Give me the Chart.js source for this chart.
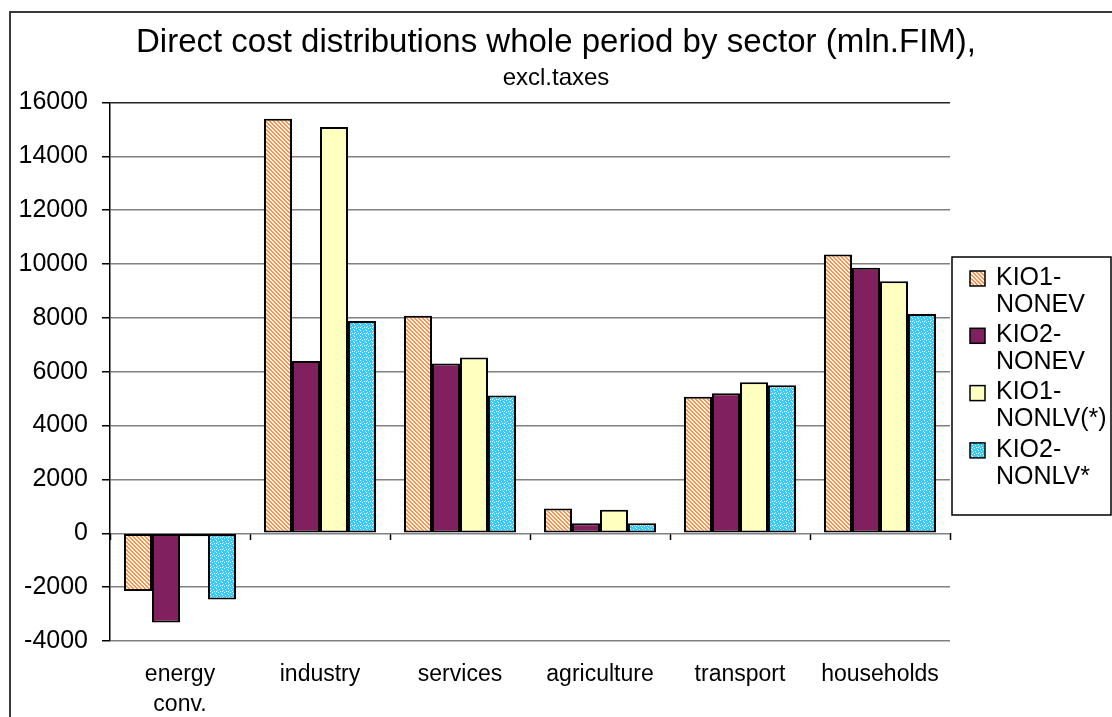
<!DOCTYPE html>
<html>
<head>
<meta charset="utf-8">
<script src="https://cdn.jsdelivr.net/npm/chart.js@4.4.0/dist/chart.umd.min.js"></script>
<style>
  html, body { margin: 0; padding: 0; background: #fff; overflow: hidden; }
  #wrap { position: relative; width: 1112px; height: 717px; }
  #frame { position: absolute; left: 9px; top: 11px; width: 1200px; height: 800px; border: 2px solid #3a3a3a; box-sizing: border-box; }
  #chart { position: absolute; left: 0; top: 0; }
</style>
</head>
<body>
<div id="wrap">
  <div id="frame"></div>
  <canvas id="chart" width="1112" height="717"></canvas>
</div>
<script>
const FONT = '"Liberation Sans", Arial, sans-serif';

// sectors and direct costs, mln.FIM
const sectors = [['energy', 'conv.'], 'industry', 'services', 'agriculture', 'transport', 'households'];
const kio1Nonev = [-2140, 15390, 8080, 920, 5070, 10350];
const kio2Nonev = [-3310, 6400, 6300, 370, 5200, 9860];
const kio1Nonlv = [-110, 15090, 6530, 870, 5610, 9360];
const kio2Nonlv = [-2460, 7880, 5120, 370, 5500, 8140];
const seriesNames = [['KIO1-', 'NONEV'], ['KIO2-', 'NONEV'], ['KIO1-', 'NONLV(*)'], ['KIO2-', 'NONLV*']];
const yMin = -4000, yMax = 16000, yStep = 2000;

const canvas = document.getElementById('chart');
const ctx2d = canvas.getContext('2d');

// salmon "\" hatch on pale yellow
function stripePattern() {
  const c = document.createElement('canvas');
  c.width = 4; c.height = 4;
  const g = c.getContext('2d');
  g.fillStyle = '#ffffc0';
  g.fillRect(0, 0, 4, 4);
  g.fillStyle = '#ff8878';
  for (let y = 0; y < 4; y++) {
    for (let x = 0; x < 4; x++) {
      if ((((x - y) % 4) + 4) % 4 < 2) g.fillRect(x, y, 1, 1);
    }
  }
  return ctx2d.createPattern(c, 'repeat');
}

// cyan with white speckles
function dotPattern() {
  const c = document.createElement('canvas');
  c.width = 6; c.height = 6;
  const g = c.getContext('2d');
  g.fillStyle = '#33ccff';
  g.fillRect(0, 0, 6, 6);
  g.fillStyle = '#ffffff';
  [[0, 0], [3, 1], [1, 2], [4, 3], [2, 4], [5, 5], [0, 3]].forEach(([x, y]) => g.fillRect(x, y, 1, 1));
  return ctx2d.createPattern(c, 'repeat');
}

const fills = [stripePattern(), '#80205f', '#ffffc0', dotPattern()];
const values = [kio1Nonev, kio2Nonev, kio1Nonlv, kio2Nonlv];

// legend box drawn to the right of the plot
const seriesLegend = {
  id: 'seriesLegend',
  afterDraw(chart) {
    const {ctx, chartArea} = chart;
    const left = chartArea.right + 2, top = 257, bottom = 515, right = 1111;
    ctx.save();
    ctx.strokeStyle = '#000';
    ctx.lineWidth = 1.5;
    ctx.strokeRect(left, top, right - left, bottom - top);
    ctx.font = `25px ${FONT}`;
    ctx.textBaseline = 'middle';
    chart.data.datasets.forEach((ds, i) => {
      const y = 278 + i * 57.3;
      ctx.fillStyle = ds.backgroundColor;
      ctx.fillRect(left + 18, y - 7, 15, 15);
      ctx.lineWidth = 1.5;
      ctx.strokeRect(left + 18, y - 7, 15, 15);
      ctx.fillStyle = '#000';
      ds.legendLines.forEach((line, k) => ctx.fillText(line, left + 44, y + k * 27));
    });
    ctx.restore();
  }
};

new Chart(canvas, {
  type: 'bar',
  data: {
    labels: sectors,
    datasets: values.map((v, i) => ({
      label: seriesNames[i].join(''),
      legendLines: seriesNames[i],
      data: v,
      backgroundColor: fills[i],
      borderColor: '#000',
      borderWidth: 2,
      borderSkipped: false,
      barPercentage: 1,
      categoryPercentage: 0.8
    }))
  },
  options: {
    responsive: false,
    animation: false,
    events: [],
    layout: { padding: 0 },
    plugins: {
      legend: { display: false },
      tooltip: { enabled: false },
      title: {
        display: true,
        text: 'Direct cost distributions whole period by sector (mln.FIM),',
        color: '#000',
        font: { family: FONT, size: 33, weight: 'normal' },
        padding: { top: 23, bottom: 1 }
      },
      subtitle: {
        display: true,
        text: 'excl.taxes',
        color: '#000',
        font: { family: FONT, size: 24, weight: 'normal' },
        padding: { top: 0, bottom: 10 }
      }
    },
    scales: {
      x: {
        position: 'bottom',
        grid: { display: false, drawTicks: false },
        border: { display: false },
        ticks: {
          color: '#000',
          font: { family: FONT, size: 23, lineHeight: 1.3 },
          padding: 19,
          maxRotation: 0,
          autoSkip: false
        },
        afterFit: s => { s.height = 76; }
      },
      // tick marks between sectors along the zero line
      x0: {
        type: 'category',
        position: { y: 0 },
        offset: true,
        grid: { offset: true, drawOnChartArea: false, tickLength: 7, tickColor: '#000', tickWidth: 1.5 },
        border: { display: false },
        ticks: { display: false }
      },
      y: {
        type: 'linear',
        min: yMin,
        max: yMax,
        ticks: {
          stepSize: yStep,
          color: '#000',
          font: { family: FONT, size: 25 },
          padding: 14,
          callback: v => String(v)
        },
        grid: {
          color: c => c.tick && c.tick.value === yMax ? '#222' : '#808080',
          lineWidth: 1.5,
          tickLength: 8,
          tickColor: '#000',
          tickWidth: 1.5
        },
        border: { color: '#000', width: 1.5 },
        afterFit: s => { s.width = 110; }
      },
      // room for the legend
      yPad: {
        type: 'linear',
        position: 'right',
        grid: { display: false },
        border: { display: false },
        ticks: { display: false },
        afterFit: s => { s.width = 162; }
      }
    }
  },
  plugins: [seriesLegend]
});
</script>
</body>
</html>
